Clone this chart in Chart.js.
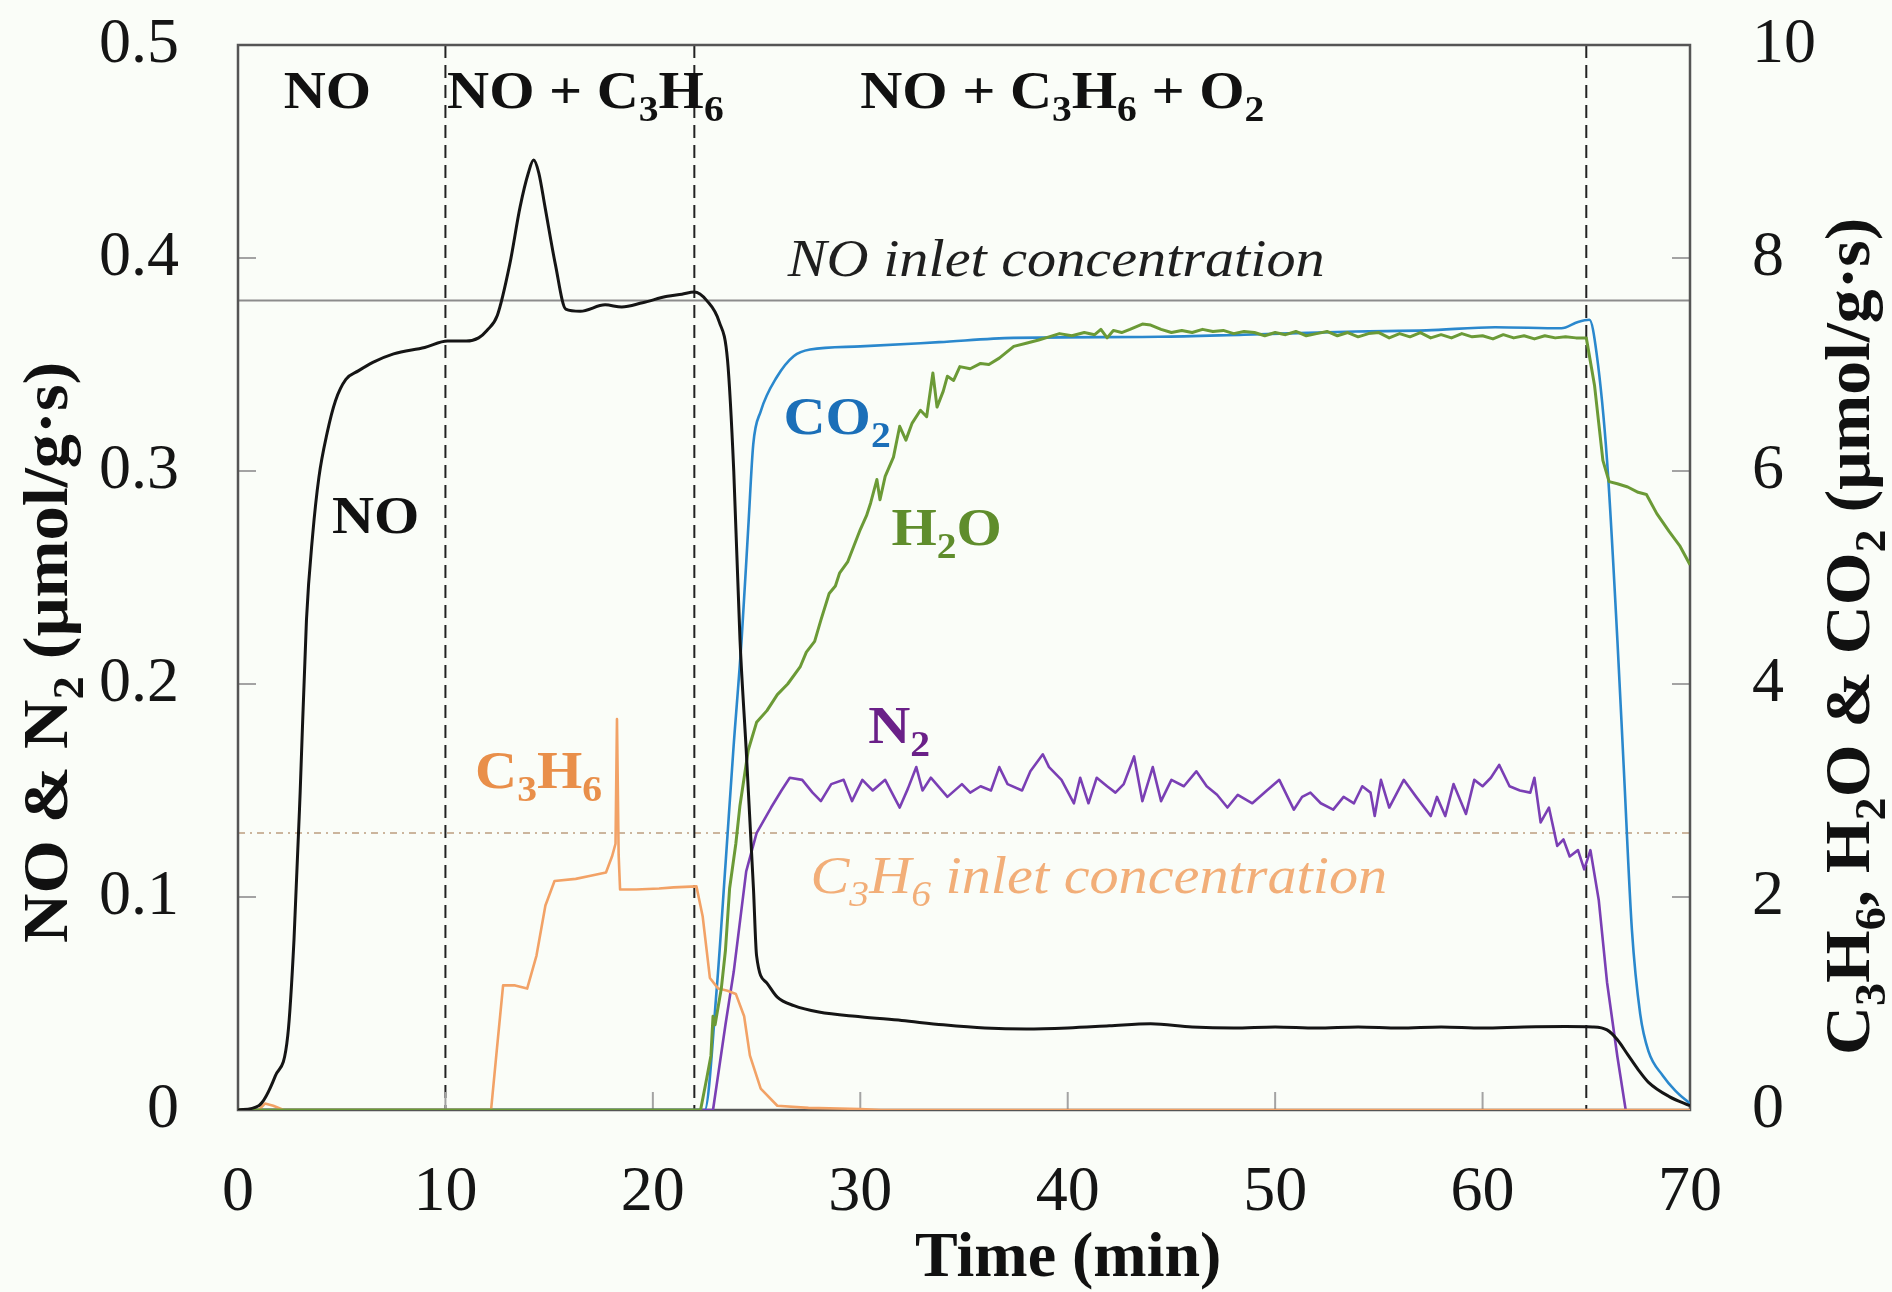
<!DOCTYPE html>
<html>
<head>
<meta charset="utf-8">
<script src="https://cdn.jsdelivr.net/npm/chart.js@4.4.1/dist/chart.umd.min.js"></script>
<style>
  html, body { margin: 0; padding: 0; background: #fafdf8; }
  #wrap { width: 1892px; height: 1292px; }
</style>
</head>
<body>
<div id="wrap"><canvas id="chart"></canvas></div>
<script>
// time in min; NO and N2 on the left axis, C3H6 / H2O / CO2 on the right axis (µmol/g·s)
const noTime = [0, 1.0, 1.8, 2.4, 2.7, 3.0, 3.3, 3.6, 3.9, 4.3, 4.7, 5.2, 5.8, 6.5, 7.5, 9.0, 10.1, 11.0, 11.6, 12.0,
  12.5, 13.1, 13.6, 14.0, 14.25, 14.5, 14.8, 15.3, 15.8, 16.5, 17.7, 18.5, 19.5, 20.7, 21.4, 22.0, 22.6, 23.2, 23.6, 23.9,
  24.2, 24.5, 24.85, 25.0, 25.5, 26.0, 26.8, 28.0, 30.0, 32.0, 34.0, 36.0, 38.0, 40.0, 42.0, 44.0, 46.0, 48.0, 50.0, 52.0,
  54.0, 56.0, 58.0, 60.0, 62.0, 64.0, 65.3, 66.0, 66.5, 67.0, 67.5, 68.0, 69.0, 70.0];
const noFlow = [0, 0.002, 0.016, 0.035, 0.08, 0.15, 0.23, 0.27, 0.297, 0.318, 0.333, 0.343, 0.347, 0.351, 0.355, 0.358, 0.361, 0.361, 0.3625, 0.366,
  0.373, 0.397, 0.424, 0.44, 0.446, 0.44, 0.424, 0.397, 0.376, 0.375, 0.378, 0.377, 0.379, 0.382, 0.383, 0.384, 0.380, 0.370, 0.352, 0.30,
  0.221, 0.169, 0.104, 0.0725, 0.0596, 0.053, 0.049, 0.046, 0.0438, 0.042, 0.040, 0.0385, 0.038, 0.0385, 0.0395, 0.0405, 0.039, 0.0385, 0.039, 0.0385,
  0.039, 0.0385, 0.039, 0.0385, 0.039, 0.0392, 0.039, 0.0376, 0.033, 0.026, 0.019, 0.013, 0.0063, 0.002];

const n2Time = [0, 22.9, 23.5, 23.9, 24.5, 25.0, 25.7, 26.2, 26.6, 27.2, 27.7, 28.1, 28.6, 29.2, 29.6, 30.1, 30.6, 31.2, 31.9, 32.3,
  32.7, 33.0, 33.4, 34.2, 34.9, 35.3, 35.8, 36.3, 36.7, 37.1, 37.8, 38.2, 38.8, 39.1, 39.7, 40.3, 40.6, 41.0, 41.4, 41.9,
  42.3, 42.7, 43.2, 43.6, 44.1, 44.5, 45.0, 45.6, 46.2, 46.7, 47.2, 47.7, 48.2, 48.9, 49.6, 50.2, 50.9, 51.3, 51.7, 52.2,
  52.8, 53.3, 53.8, 54.2, 54.6, 54.8, 55.1, 55.5, 56.2, 56.8, 57.5, 57.8, 58.2, 58.6, 59.2, 59.6, 60.0, 60.4, 60.8, 61.3,
  61.8, 62.3, 62.5, 62.8, 63.2, 63.6, 63.9, 64.2, 64.6, 64.9, 65.2, 65.6, 66.0, 66.5, 66.9];
const n2Flow = [0, 0, 0.04, 0.065, 0.112, 0.130, 0.142, 0.150, 0.156, 0.155, 0.149, 0.145, 0.153, 0.155, 0.145, 0.155, 0.150, 0.155, 0.142, 0.151,
  0.161, 0.150, 0.156, 0.147, 0.153, 0.149, 0.152, 0.150, 0.161, 0.153, 0.150, 0.159, 0.167, 0.161, 0.155, 0.144, 0.156, 0.144, 0.156, 0.152,
  0.149, 0.153, 0.166, 0.145, 0.161, 0.145, 0.155, 0.152, 0.159, 0.152, 0.148, 0.142, 0.148, 0.144, 0.150, 0.155, 0.141, 0.147, 0.149, 0.144,
  0.141, 0.147, 0.144, 0.152, 0.149, 0.138, 0.155, 0.142, 0.155, 0.147, 0.138, 0.147, 0.138, 0.153, 0.139, 0.155, 0.152, 0.156, 0.162, 0.152,
  0.150, 0.149, 0.156, 0.135, 0.142, 0.124, 0.127, 0.119, 0.122, 0.113, 0.122, 0.0986, 0.06, 0.025, 0];

const co2Time = [0, 22.5, 23.08, 23.5, 23.88, 24.28, 24.6, 24.84, 25.2, 25.97, 26.8, 27.58, 30.0, 33.8, 37.4,
  44.4, 48.5, 53.9, 57.3, 60.6, 63.8, 64.6, 65.15, 65.5, 66.0, 66.5, 66.8, 67.2, 67.6, 68.0, 68.7, 69.3, 70];
const co2Flow = [0, 0, 1.14, 2.3, 3.38, 4.42, 5.47, 6.25, 6.56, 6.88, 7.08, 7.14, 7.17, 7.21, 7.25,
  7.26, 7.28, 7.31, 7.32, 7.35, 7.34, 7.40, 7.42, 7.1, 6.1, 4.41, 3.24, 1.69, 0.9, 0.55, 0.32, 0.18, 0.06];

const h2oTime = [0, 22.3, 22.6, 22.8, 22.9, 23.0, 23.3, 23.5, 23.7, 24.0,
  24.2, 24.6, 25.0, 25.5, 26.0, 26.5, 27.1, 27.4, 27.8, 28.1,
  28.5, 28.8, 29.0, 29.4, 29.7, 30.0, 30.3, 30.5, 30.8, 30.95,
  31.2, 31.6, 31.9, 32.2, 32.5, 32.9, 33.2, 33.5, 33.7, 34.0,
  34.2, 34.5, 34.8, 35.3, 35.8, 36.2, 36.7, 37.4, 38.0, 38.6,
  39.1, 39.6, 40.2, 40.8, 41.3, 41.6, 41.9, 42.2, 42.6, 43.0,
  43.6, 44.0, 44.5, 45.0, 45.5, 46.0, 46.5, 47.0, 47.5, 48.0,
  48.5, 49.0, 49.5, 50.0, 50.5, 51.0, 51.5, 52.0, 52.5, 53.0,
  53.5, 54.0, 54.5, 55.0, 55.5, 56.0, 56.5, 57.0, 57.5, 58.0,
  58.5, 59.0, 59.5, 60.0, 60.5, 61.0, 61.5, 62.0, 62.5, 63.0,
  63.5, 64.0, 64.5, 65.0, 65.4, 65.8, 66.1, 66.5, 67.0, 67.5,
  67.9, 68.4, 69.0, 69.5, 70];
const h2oFlow = [0, 0, 0.3, 0.51, 0.88, 0.8, 1.14, 1.5, 2.08, 2.5,
  2.86, 3.38, 3.64, 3.75, 3.9, 4.0, 4.16, 4.3, 4.4, 4.6,
  4.85, 4.92, 5.04, 5.15, 5.3, 5.45, 5.58, 5.7, 5.92, 5.73,
  5.95, 6.13, 6.42, 6.29, 6.45, 6.57, 6.51, 6.92, 6.6, 6.75,
  6.89, 6.85, 6.98, 6.96, 7.01, 7.0, 7.06, 7.17, 7.2, 7.23,
  7.26, 7.29, 7.27, 7.3, 7.28, 7.33, 7.25, 7.32, 7.3, 7.33,
  7.38, 7.37, 7.33, 7.3, 7.32, 7.3, 7.33, 7.31, 7.32, 7.29,
  7.31, 7.3, 7.27, 7.3, 7.28, 7.31, 7.27, 7.29, 7.31, 7.27,
  7.3, 7.26, 7.29, 7.3, 7.25, 7.29, 7.26, 7.3, 7.25, 7.28,
  7.25, 7.29, 7.26, 7.27, 7.24, 7.28, 7.25, 7.27, 7.24, 7.27,
  7.25, 7.26, 7.25, 7.25, 6.8, 6.1, 5.9, 5.88, 5.85, 5.8,
  5.78, 5.6, 5.43, 5.3, 5.12];

const c3h6Time = [0, 1.0, 1.3, 1.7, 2.2, 12.2, 12.49, 12.78, 13.36, 13.94, 14.39, 14.82, 15.26, 16.28, 17.0, 17.74, 18.03, 18.2, 18.27, 18.35,
  18.42, 19.2, 20.3, 21.0, 22.1, 22.4, 22.75, 23.15, 23.6, 24.0, 24.4, 24.68, 25.2, 26.0, 27.5, 30.0, 31.0, 70];
const c3h6Flow = [0, 0, 0.06, 0.04, 0, 0, 0.59, 1.17, 1.17, 1.14, 1.45, 1.92, 2.15, 2.17, 2.2, 2.23, 2.38, 2.5, 3.67, 2.4,
  2.07, 2.07, 2.08, 2.09, 2.1, 1.82, 1.24, 1.14, 1.12, 1.09, 0.88, 0.51, 0.2, 0.04, 0.02, 0.01, 0, 0];

const phaseBounds = [10, 22, 65];   // gas switches
const noInlet = 0.38;
const c3h6Inlet = 2.6;

const SERIF = '"Liberation Serif", "Times New Roman", serif';
const pts = (ts, vs) => ts.map((t, i) => ({ x: t, y: vs[i] }));

// text pieces: [text, isSubscript]
const annotations = [
  { x: 2.2,   y: 0.4705, axis: 'yL', parts: [['NO']], color: '#111', weight: 'bold' },
  { x: 10.08, y: 0.4705, axis: 'yL', parts: [['NO + C'], ['3', 1], ['H'], ['6', 1]], color: '#111', weight: 'bold' },
  { x: 30.0,  y: 0.4705, axis: 'yL', parts: [['NO + C'], ['3', 1], ['H'], ['6', 1], [' + O'], ['2', 1]], color: '#111', weight: 'bold' },
  { x: 26.5,  y: 0.3917, axis: 'yL', parts: [['NO inlet concentration']], color: '#1f1f1f', style: 'italic' },
  { x: 27.6,  y: 0.1019, axis: 'yL', parts: [['C'], ['3', 1], ['H'], ['6', 1], [' inlet concentration']], color: '#f2ae78', style: 'italic' },
  { x: 4.53,  y: 0.271,  axis: 'yL', parts: [['NO']], color: '#111', weight: 'bold' },
  { x: 26.3,  y: 6.35,   axis: 'yR', parts: [['CO'], ['2', 1]], color: '#1b6fb8', weight: 'bold' },
  { x: 31.5,  y: 5.305,  axis: 'yR', parts: [['H'], ['2', 1], ['O']], color: '#5f8d2c', weight: 'bold' },
  { x: 30.38, y: 0.1721, axis: 'yL', parts: [['N'], ['2', 1]], color: '#6a2088', weight: 'bold' },
  { x: 11.43, y: 3.02,   axis: 'yR', parts: [['C'], ['3', 1], ['H'], ['6', 1]], color: '#e98f4a', weight: 'bold' }
];

function drawRich(ctx, parts, x, y, o) {
  ctx.save();
  ctx.translate(x, y);
  if (o.angle) ctx.rotate(o.angle);
  ctx.scale(o.stretch || 1, 1);
  ctx.fillStyle = o.color;
  ctx.textAlign = 'left';
  ctx.textBaseline = 'alphabetic';
  let cx = 0;
  parts.forEach(([txt, sub]) => {
    const size = sub ? o.size * 0.68 : o.size;
    ctx.font = `${o.style || 'normal'} ${o.weight || 'normal'} ${size}px ${SERIF}`;
    ctx.fillText(txt, cx, sub ? o.size * 0.25 : 0);
    cx += ctx.measureText(txt).width;
  });
  ctx.restore();
}

function seg(ctx, x1, y1, x2, y2) {
  ctx.beginPath();
  ctx.moveTo(x1, y1);
  ctx.lineTo(x2, y2);
  ctx.stroke();
}

const panel = {
  id: 'panel',
  beforeDatasetsDraw(chart) {
    const { ctx, chartArea: a } = chart;
    const { x, yL, yR } = chart.scales;
    ctx.save();
    ctx.lineWidth = 2;

    // inlet levels
    ctx.strokeStyle = '#8c8c8c';
    const yNo = yL.getPixelForValue(noInlet);
    seg(ctx, a.left, yNo, a.right, yNo);
    ctx.strokeStyle = '#cbb59d';
    ctx.setLineDash([7, 5, 2, 5]);
    const yC = yR.getPixelForValue(c3h6Inlet);
    seg(ctx, a.left, yC, a.right, yC);

    // switching times
    ctx.strokeStyle = '#222';
    ctx.setLineDash([13, 7]);
    phaseBounds.forEach(t => {
      const px = x.getPixelForValue(t);
      seg(ctx, px, a.top, px, a.bottom);
    });
    ctx.setLineDash([]);

    // inward tick marks
    ctx.strokeStyle = '#a3a3a3';
    x.ticks.forEach(t => {
      if (t.value <= x.min || t.value >= x.max) return;
      const px = x.getPixelForValue(t.value);
      seg(ctx, px, a.bottom, px, a.bottom - 18);
    });
    yL.ticks.forEach(t => {
      if (t.value <= yL.min || t.value >= yL.max) return;
      const py = yL.getPixelForValue(t.value);
      seg(ctx, a.left, py, a.left + 18, py);
    });
    yR.ticks.forEach(t => {
      if (t.value <= yR.min || t.value >= yR.max) return;
      const py = yR.getPixelForValue(t.value);
      seg(ctx, a.right, py, a.right - 18, py);
    });

    // frame under the curves, so the zero lines sit on top of it
    ctx.strokeStyle = '#555';
    ctx.lineWidth = 2.5;
    ctx.strokeRect(a.left, a.top, a.right - a.left, a.bottom - a.top);
    ctx.restore();
  },
  afterDatasetsDraw(chart) {
    const { ctx } = chart;
    const { x } = chart.scales;
    annotations.forEach(n => {
      drawRich(ctx, n.parts, x.getPixelForValue(n.x), chart.scales[n.axis].getPixelForValue(n.y),
        { size: 52, stretch: 1.12, color: n.color, weight: n.weight, style: n.style });
    });
  },
  afterDraw(chart) {
    const { ctx, chartArea: a } = chart;
    const title = { size: 64, weight: 'bold', color: '#111' };
    drawRich(ctx, [['NO & N'], ['2', 1], [' (\u03bcmol/g\u00b7s)']], a.left - 171, 943,
      { ...title, angle: -Math.PI / 2, stretch: 1.07 });
    drawRich(ctx, [['C'], ['3', 1], ['H'], ['6', 1], [', H'], ['2', 1], ['O & CO'], ['2', 1], [' (\u03bcmol/g\u00b7s)']],
      a.right + 179, 1055, { ...title, angle: -Math.PI / 2, stretch: 1.06 });
    drawRich(ctx, [['Time (min)']], 915, a.bottom + 166, title);
  }
};

const tickFont = { family: SERIF, size: 64 };
const axisBase = {
  type: 'linear',
  grid: { display: false, drawTicks: false },
  border: { display: false }
};

// fixed box sizes so the plot frame lands at 238..1690 x 45..1110
const fixWidth = w => s => { s.width = w; s.paddingTop = 0; s.paddingBottom = 0; };

new Chart(document.getElementById('chart'), {
  type: 'line',
  data: {
    datasets: [
      { label: 'NO', data: pts(noTime, noFlow), yAxisID: 'yL', borderColor: '#151515', borderWidth: 3, order: 0, cubicInterpolationMode: 'monotone' },
      { label: 'H2O', data: pts(h2oTime, h2oFlow), yAxisID: 'yR', borderColor: '#6b9a36', borderWidth: 3, order: 1 },
      { label: 'C3H6', data: pts(c3h6Time, c3h6Flow), yAxisID: 'yR', borderColor: '#f2a266', borderWidth: 2.6, order: 2 },
      { label: 'N2', data: pts(n2Time, n2Flow), yAxisID: 'yL', borderColor: '#7a3fb4', borderWidth: 2.6, order: 3 },
      { label: 'CO2', data: pts(co2Time, co2Flow), yAxisID: 'yR', borderColor: '#2a88cd', borderWidth: 2.6, order: 4, cubicInterpolationMode: 'monotone' }
    ]
  },
  options: {
    responsive: true,
    maintainAspectRatio: false,
    animation: false,
    layout: { padding: { top: 45, left: 0, right: 0, bottom: 0 } },
    elements: { point: { radius: 0 }, line: { borderJoinStyle: 'round' } },
    plugins: { legend: { display: false }, tooltip: { enabled: false } },
    scales: {
      x: {
        ...axisBase, position: 'bottom', min: 0, max: 70,
        ticks: { stepSize: 10, autoSkip: false, maxRotation: 0, font: tickFont, color: '#151515', padding: 45 },
        afterFit: s => { s.height = 182; s.paddingLeft = 0; s.paddingRight = 0; }
      },
      yL: {
        ...axisBase, position: 'left', min: 0, max: 0.5,
        ticks: { stepSize: 0.1, autoSkip: false, font: tickFont, color: '#151515', padding: 59,
          callback: v => (v === 0 ? '0' : v.toFixed(1)) },
        afterFit: fixWidth(238)
      },
      yR: {
        ...axisBase, position: 'right', min: 0, max: 10,
        ticks: { stepSize: 2, autoSkip: false, font: tickFont, color: '#151515', padding: 62 },
        afterFit: fixWidth(202)
      }
    }
  },
  plugins: [panel]
});
</script>
</body>
</html>
